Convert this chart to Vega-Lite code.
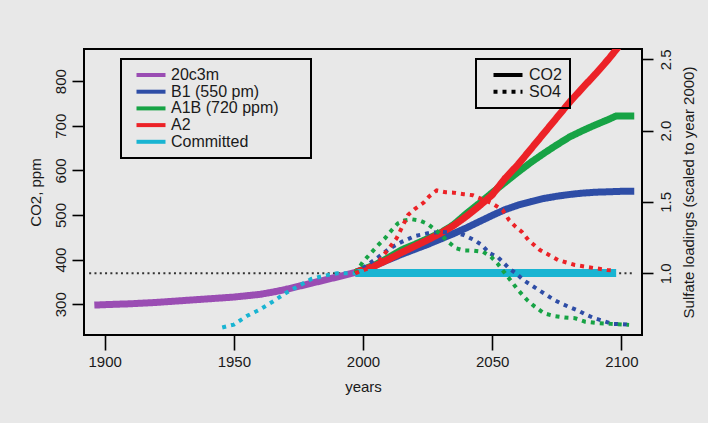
{
  "$schema": "https://vega.github.io/schema/vega-lite/v6.json",
  "width": 558,
  "height": 286,
  "autosize": "none",
  "padding": {"left": 84, "top": 49, "right": 66, "bottom": 88},
  "background": "#e8e8e8",
  "config": {
    "view": {"stroke": "black", "strokeWidth": 2},
    "font": "Liberation Sans",
    "axis": {
      "labelFont": "Liberation Sans", "titleFont": "Liberation Sans",
      "labelFontSize": 15, "titleFontSize": 15,
      "labelColor": "#1a1a1a", "titleColor": "#1a1a1a", "titleFontWeight": "normal",
      "domain": false, "grid": false, "tickColor": "black", "tickWidth": 1.6,
      "labelOverlap": false
    },
    "legend": {
      "labelFont": "Liberation Sans", "labelFontSize": 16, "labelColor": "#1a1a1a",
      "strokeColor": "black", "strokeWidth": 2, "padding": 8,
      "symbolType": "M-3,0H3", "symbolSize": 93.4, "symbolStrokeWidth": 4, "rowPadding": 0.7
    }
  },
  "datasets": {
    "co2": [
      {"scenario": "20c3m", "year": 1896, "co2": 298}, {"scenario": "20c3m", "year": 1900, "co2": 299},
      {"scenario": "20c3m", "year": 1910, "co2": 301}, {"scenario": "20c3m", "year": 1920, "co2": 304},
      {"scenario": "20c3m", "year": 1930, "co2": 308}, {"scenario": "20c3m", "year": 1940, "co2": 312},
      {"scenario": "20c3m", "year": 1950, "co2": 316}, {"scenario": "20c3m", "year": 1960, "co2": 322},
      {"scenario": "20c3m", "year": 1965, "co2": 327}, {"scenario": "20c3m", "year": 1970, "co2": 333},
      {"scenario": "20c3m", "year": 1975, "co2": 340}, {"scenario": "20c3m", "year": 1980, "co2": 347},
      {"scenario": "20c3m", "year": 1985, "co2": 354}, {"scenario": "20c3m", "year": 1990, "co2": 361},
      {"scenario": "20c3m", "year": 1997, "co2": 371},
      {"scenario": "B1 (550 pm)", "year": 1997, "co2": 371}, {"scenario": "B1 (550 pm)", "year": 2005, "co2": 388},
      {"scenario": "B1 (550 pm)", "year": 2010, "co2": 400}, {"scenario": "B1 (550 pm)", "year": 2015, "co2": 412},
      {"scenario": "B1 (550 pm)", "year": 2020, "co2": 423}, {"scenario": "B1 (550 pm)", "year": 2025, "co2": 434},
      {"scenario": "B1 (550 pm)", "year": 2030, "co2": 446}, {"scenario": "B1 (550 pm)", "year": 2035, "co2": 458},
      {"scenario": "B1 (550 pm)", "year": 2040, "co2": 471}, {"scenario": "B1 (550 pm)", "year": 2045, "co2": 485},
      {"scenario": "B1 (550 pm)", "year": 2050, "co2": 499}, {"scenario": "B1 (550 pm)", "year": 2055, "co2": 512},
      {"scenario": "B1 (550 pm)", "year": 2060, "co2": 522}, {"scenario": "B1 (550 pm)", "year": 2065, "co2": 530},
      {"scenario": "B1 (550 pm)", "year": 2070, "co2": 537}, {"scenario": "B1 (550 pm)", "year": 2075, "co2": 542},
      {"scenario": "B1 (550 pm)", "year": 2080, "co2": 546}, {"scenario": "B1 (550 pm)", "year": 2085, "co2": 549},
      {"scenario": "B1 (550 pm)", "year": 2090, "co2": 551}, {"scenario": "B1 (550 pm)", "year": 2095, "co2": 552},
      {"scenario": "B1 (550 pm)", "year": 2100, "co2": 553}, {"scenario": "B1 (550 pm)", "year": 2105, "co2": 553},
      {"scenario": "A1B (720 ppm)", "year": 1997, "co2": 371}, {"scenario": "A1B (720 ppm)", "year": 2005, "co2": 389},
      {"scenario": "A1B (720 ppm)", "year": 2010, "co2": 405}, {"scenario": "A1B (720 ppm)", "year": 2015, "co2": 422},
      {"scenario": "A1B (720 ppm)", "year": 2020, "co2": 434}, {"scenario": "A1B (720 ppm)", "year": 2025, "co2": 447},
      {"scenario": "A1B (720 ppm)", "year": 2030, "co2": 460}, {"scenario": "A1B (720 ppm)", "year": 2035, "co2": 478},
      {"scenario": "A1B (720 ppm)", "year": 2040, "co2": 503}, {"scenario": "A1B (720 ppm)", "year": 2045, "co2": 526},
      {"scenario": "A1B (720 ppm)", "year": 2050, "co2": 550}, {"scenario": "A1B (720 ppm)", "year": 2055, "co2": 573},
      {"scenario": "A1B (720 ppm)", "year": 2060, "co2": 596}, {"scenario": "A1B (720 ppm)", "year": 2065, "co2": 618},
      {"scenario": "A1B (720 ppm)", "year": 2070, "co2": 638}, {"scenario": "A1B (720 ppm)", "year": 2075, "co2": 657},
      {"scenario": "A1B (720 ppm)", "year": 2080, "co2": 675}, {"scenario": "A1B (720 ppm)", "year": 2085, "co2": 689},
      {"scenario": "A1B (720 ppm)", "year": 2090, "co2": 702}, {"scenario": "A1B (720 ppm)", "year": 2095, "co2": 714},
      {"scenario": "A1B (720 ppm)", "year": 2098, "co2": 722}, {"scenario": "A1B (720 ppm)", "year": 2105, "co2": 722},
      {"scenario": "A2", "year": 1997, "co2": 371}, {"scenario": "A2", "year": 2005, "co2": 387},
      {"scenario": "A2", "year": 2010, "co2": 401}, {"scenario": "A2", "year": 2015, "co2": 416},
      {"scenario": "A2", "year": 2020, "co2": 430}, {"scenario": "A2", "year": 2025, "co2": 444},
      {"scenario": "A2", "year": 2030, "co2": 459}, {"scenario": "A2", "year": 2035, "co2": 476},
      {"scenario": "A2", "year": 2040, "co2": 497}, {"scenario": "A2", "year": 2045, "co2": 520},
      {"scenario": "A2", "year": 2050, "co2": 545}, {"scenario": "A2", "year": 2055, "co2": 582},
      {"scenario": "A2", "year": 2060, "co2": 613}, {"scenario": "A2", "year": 2065, "co2": 648},
      {"scenario": "A2", "year": 2070, "co2": 683}, {"scenario": "A2", "year": 2075, "co2": 718},
      {"scenario": "A2", "year": 2080, "co2": 753}, {"scenario": "A2", "year": 2085, "co2": 785},
      {"scenario": "A2", "year": 2090, "co2": 816}, {"scenario": "A2", "year": 2095, "co2": 849},
      {"scenario": "A2", "year": 2100, "co2": 885}
    ],
    "committed": [
      {"scenario": "Committed", "year": 1997, "co2": 370}, {"scenario": "Committed", "year": 2098, "co2": 370}
    ],
    "so4": [
      {"scenario": "Committed", "year": 1945.5, "so4": 0.62}, {"scenario": "Committed", "year": 1950, "so4": 0.64},
      {"scenario": "Committed", "year": 1955, "so4": 0.70}, {"scenario": "Committed", "year": 1960, "so4": 0.745},
      {"scenario": "Committed", "year": 1965, "so4": 0.80}, {"scenario": "Committed", "year": 1970, "so4": 0.86},
      {"scenario": "Committed", "year": 1975, "so4": 0.91}, {"scenario": "Committed", "year": 1980, "so4": 0.96},
      {"scenario": "Committed", "year": 1985, "so4": 0.983}, {"scenario": "Committed", "year": 1990, "so4": 1.0},
      {"scenario": "Committed", "year": 1997, "so4": 1.0},
      {"scenario": "B1 (550 pm)", "year": 1997, "so4": 1.0}, {"scenario": "B1 (550 pm)", "year": 2005, "so4": 1.1},
      {"scenario": "B1 (550 pm)", "year": 2010, "so4": 1.17}, {"scenario": "B1 (550 pm)", "year": 2015, "so4": 1.22},
      {"scenario": "B1 (550 pm)", "year": 2020, "so4": 1.26}, {"scenario": "B1 (550 pm)", "year": 2025, "so4": 1.28},
      {"scenario": "B1 (550 pm)", "year": 2030, "so4": 1.29}, {"scenario": "B1 (550 pm)", "year": 2035, "so4": 1.285},
      {"scenario": "B1 (550 pm)", "year": 2039, "so4": 1.268}, {"scenario": "B1 (550 pm)", "year": 2043, "so4": 1.233},
      {"scenario": "B1 (550 pm)", "year": 2046, "so4": 1.198}, {"scenario": "B1 (550 pm)", "year": 2049, "so4": 1.14},
      {"scenario": "B1 (550 pm)", "year": 2052, "so4": 1.116}, {"scenario": "B1 (550 pm)", "year": 2054, "so4": 1.081},
      {"scenario": "B1 (550 pm)", "year": 2056.5, "so4": 1.035}, {"scenario": "B1 (550 pm)", "year": 2059.5, "so4": 0.995},
      {"scenario": "B1 (550 pm)", "year": 2062, "so4": 0.953}, {"scenario": "B1 (550 pm)", "year": 2065, "so4": 0.918},
      {"scenario": "B1 (550 pm)", "year": 2068, "so4": 0.883}, {"scenario": "B1 (550 pm)", "year": 2071, "so4": 0.848},
      {"scenario": "B1 (550 pm)", "year": 2074, "so4": 0.813}, {"scenario": "B1 (550 pm)", "year": 2076.5, "so4": 0.79},
      {"scenario": "B1 (550 pm)", "year": 2079.5, "so4": 0.766}, {"scenario": "B1 (550 pm)", "year": 2083.5, "so4": 0.736},
      {"scenario": "B1 (550 pm)", "year": 2086.5, "so4": 0.708}, {"scenario": "B1 (550 pm)", "year": 2089.5, "so4": 0.685},
      {"scenario": "B1 (550 pm)", "year": 2093, "so4": 0.666}, {"scenario": "B1 (550 pm)", "year": 2096.5, "so4": 0.645},
      {"scenario": "B1 (550 pm)", "year": 2100, "so4": 0.643}, {"scenario": "B1 (550 pm)", "year": 2103.5, "so4": 0.638},
      {"scenario": "A1B (720 ppm)", "year": 1997, "so4": 1.0}, {"scenario": "A1B (720 ppm)", "year": 2000, "so4": 1.08},
      {"scenario": "A1B (720 ppm)", "year": 2003, "so4": 1.14}, {"scenario": "A1B (720 ppm)", "year": 2006, "so4": 1.2},
      {"scenario": "A1B (720 ppm)", "year": 2008.5, "so4": 1.245}, {"scenario": "A1B (720 ppm)", "year": 2011, "so4": 1.3},
      {"scenario": "A1B (720 ppm)", "year": 2013.5, "so4": 1.35}, {"scenario": "A1B (720 ppm)", "year": 2016, "so4": 1.37},
      {"scenario": "A1B (720 ppm)", "year": 2019, "so4": 1.378}, {"scenario": "A1B (720 ppm)", "year": 2022, "so4": 1.369},
      {"scenario": "A1B (720 ppm)", "year": 2025, "so4": 1.346}, {"scenario": "A1B (720 ppm)", "year": 2029, "so4": 1.29},
      {"scenario": "A1B (720 ppm)", "year": 2033, "so4": 1.22}, {"scenario": "A1B (720 ppm)", "year": 2036, "so4": 1.175},
      {"scenario": "A1B (720 ppm)", "year": 2039, "so4": 1.16}, {"scenario": "A1B (720 ppm)", "year": 2043, "so4": 1.158},
      {"scenario": "A1B (720 ppm)", "year": 2046.5, "so4": 1.15}, {"scenario": "A1B (720 ppm)", "year": 2049.5, "so4": 1.116},
      {"scenario": "A1B (720 ppm)", "year": 2052, "so4": 1.07}, {"scenario": "A1B (720 ppm)", "year": 2054.5, "so4": 1.011},
      {"scenario": "A1B (720 ppm)", "year": 2057, "so4": 0.953}, {"scenario": "A1B (720 ppm)", "year": 2060, "so4": 0.883},
      {"scenario": "A1B (720 ppm)", "year": 2063.5, "so4": 0.813}, {"scenario": "A1B (720 ppm)", "year": 2066.5, "so4": 0.766},
      {"scenario": "A1B (720 ppm)", "year": 2070, "so4": 0.72}, {"scenario": "A1B (720 ppm)", "year": 2074, "so4": 0.70},
      {"scenario": "A1B (720 ppm)", "year": 2078, "so4": 0.69}, {"scenario": "A1B (720 ppm)", "year": 2082, "so4": 0.685},
      {"scenario": "A1B (720 ppm)", "year": 2086, "so4": 0.66}, {"scenario": "A1B (720 ppm)", "year": 2091, "so4": 0.65},
      {"scenario": "A1B (720 ppm)", "year": 2096, "so4": 0.645}, {"scenario": "A1B (720 ppm)", "year": 2103, "so4": 0.638},
      {"scenario": "A2", "year": 1997, "so4": 1.0}, {"scenario": "A2", "year": 2003, "so4": 1.04},
      {"scenario": "A2", "year": 2006.5, "so4": 1.093}, {"scenario": "A2", "year": 2010.5, "so4": 1.186},
      {"scenario": "A2", "year": 2013, "so4": 1.245}, {"scenario": "A2", "year": 2017.5, "so4": 1.41},
      {"scenario": "A2", "year": 2020, "so4": 1.45}, {"scenario": "A2", "year": 2023.5, "so4": 1.495},
      {"scenario": "A2", "year": 2025.5, "so4": 1.537}, {"scenario": "A2", "year": 2028.5, "so4": 1.58},
      {"scenario": "A2", "year": 2032, "so4": 1.568}, {"scenario": "A2", "year": 2035, "so4": 1.565},
      {"scenario": "A2", "year": 2039, "so4": 1.554}, {"scenario": "A2", "year": 2042.5, "so4": 1.547},
      {"scenario": "A2", "year": 2050, "so4": 1.49}, {"scenario": "A2", "year": 2054, "so4": 1.444},
      {"scenario": "A2", "year": 2056.5, "so4": 1.374}, {"scenario": "A2", "year": 2059, "so4": 1.327},
      {"scenario": "A2", "year": 2061.5, "so4": 1.29}, {"scenario": "A2", "year": 2064, "so4": 1.233},
      {"scenario": "A2", "year": 2068.5, "so4": 1.163}, {"scenario": "A2", "year": 2072, "so4": 1.128},
      {"scenario": "A2", "year": 2075.5, "so4": 1.093}, {"scenario": "A2", "year": 2079, "so4": 1.074},
      {"scenario": "A2", "year": 2082, "so4": 1.058}, {"scenario": "A2", "year": 2086, "so4": 1.046},
      {"scenario": "A2", "year": 2090, "so4": 1.035}, {"scenario": "A2", "year": 2094.5, "so4": 1.023},
      {"scenario": "A2", "year": 2097, "so4": 1.02}
    ],
    "ref": [
      {"year": 1894, "so4": 1.0}, {"year": 2105, "so4": 1.0}
    ]
  },
  "resolve": {"scale": {"y": "independent"}},
  "layer": [
    {
      "data": {"name": "ref"},
      "mark": {"type": "line", "color": "#333333", "strokeWidth": 1.8, "strokeDash": [2, 3.3], "clip": true},
      "encoding": {
        "x": {"field": "year", "type": "quantitative", "scale": {"domain": [1892, 2108], "nice": false, "zero": false},
          "axis": {"values": [1900, 1950, 2000, 2050, 2100], "format": "d", "tickSize": 15, "labelPadding": 4, "title": "years", "titlePadding": 10}},
        "y": {"field": "so4", "type": "quantitative", "scale": {"domain": [0.567, 2.572], "nice": false, "zero": false}, "axis": null}
      }
    },
    {
      "data": {"name": "co2"},
      "mark": {"type": "line", "strokeWidth": 7, "clip": true},
      "encoding": {
        "x": {"field": "year", "type": "quantitative"},
        "y": {"field": "co2", "type": "quantitative", "scale": {"domain": [231, 872], "nice": false, "zero": false},
          "axis": {"orient": "left", "values": [300, 400, 500, 600, 700, 800], "tickSize": 12, "labelAngle": 270, "labelAlign": "center", "labelBaseline": "bottom", "labelPadding": 4, "title": "CO2, ppm", "titlePadding": 10}},
        "color": {"field": "scenario", "type": "nominal",
          "scale": {"domain": ["20c3m", "B1 (550 pm)", "A1B (720 ppm)", "A2", "Committed"], "range": ["#9a4db3", "#2e4da6", "#17a345", "#ec2227", "#19b4d2"]},
          "legend": {"title": null, "orient": "none", "legendX": 37, "legendY": 10, "labelOffset": 12, "symbolOffset": 14,
            "labelExpr": "datum.label == 'A1B (720 ppm)' ? datum.label + '\u2800\u2800' : datum.label"}},
        "strokeDash": {"datum": "CO2", "type": "nominal", "scale": {"domain": ["CO2", "SO4"], "range": [[1, 0], [4, 5]]},
          "legend": {"title": null, "orient": "none", "legendX": 392, "legendY": 10, "labelOffset": 13, "symbolOffset": 16, "symbolStrokeColor": "black"}}
      }
    },
    {
      "data": {"name": "committed"},
      "mark": {"type": "line", "strokeWidth": 8, "clip": true},
      "encoding": {
        "x": {"field": "year", "type": "quantitative"},
        "y": {"field": "co2", "type": "quantitative", "scale": {"domain": [231, 872], "nice": false, "zero": false}, "axis": null},
        "color": {"field": "scenario", "type": "nominal"},
        "strokeDash": {"datum": "CO2", "type": "nominal"}
      }
    },
    {
      "data": {"name": "so4"},
      "mark": {"type": "line", "strokeWidth": 4, "clip": true},
      "encoding": {
        "x": {"field": "year", "type": "quantitative"},
        "y": {"field": "so4", "type": "quantitative", "scale": {"domain": [0.567, 2.572], "nice": false, "zero": false},
          "axis": {"orient": "right", "values": [1.0, 1.5, 2.0, 2.5], "format": ".1f", "tickSize": 11, "labelAngle": 270, "labelAlign": "center", "labelBaseline": "top", "labelPadding": 5, "title": "Sulfate loadings (scaled to year 2000)", "titleAngle": 270, "titleBaseline": "top", "titlePadding": 8}},
        "color": {"field": "scenario", "type": "nominal"},
        "strokeDash": {"datum": "SO4", "type": "nominal"}
      }
    }
  ]
}
